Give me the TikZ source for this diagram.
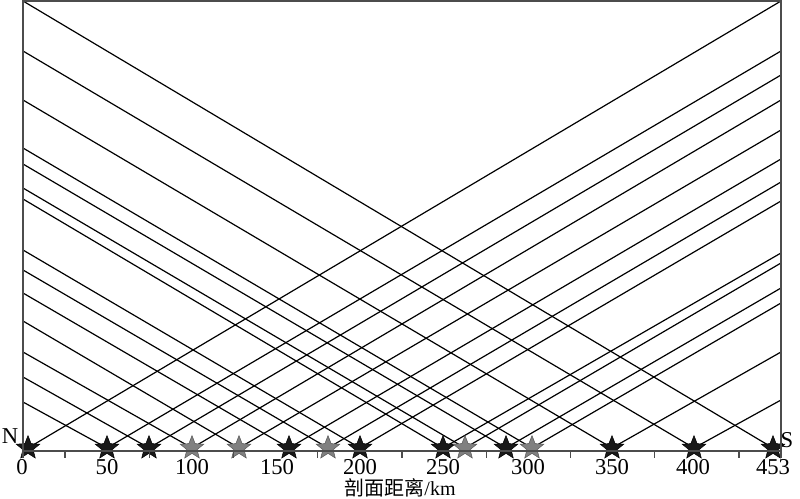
\documentclass[tikz,border=0pt]{standalone}
\usepackage{fontspec}
\setmainfont{Liberation Serif}
\newfontfamily\cjk{Noto Sans CJK SC}
\usetikzlibrary{shapes.geometric,backgrounds}
\begin{document}
\begin{tikzpicture}[x=0.75pt,y=-0.75pt,
  ray/.style={draw=black,line width=0.9pt},
  frame/.style={draw=black!70,line width=1.1pt},
  bstar/.style={star,star points=5,star point ratio=2.3,minimum size=18.5pt,inner sep=0pt,fill=black!90,draw=black,line width=0.4pt},
  gstar/.style={bstar,fill=black!50,draw=black!65},
  lab/.style={font=\fontsize{17}{19}\selectfont,inner sep=0pt},
  ttl/.style={font=\fontsize{15}{17}\selectfont,inner sep=0pt}]
\useasboundingbox (0,0) rectangle (800,499);
% stars (sources)
\foreach \n/\x/\s in {0/28/bstar,1/107/bstar,2/149/bstar,3/192/gstar,4/239/gstar,
  5/289/bstar,6/328/gstar,7/360/bstar,8/443/bstar,9/465/gstar,10/506/bstar,
  11/532/gstar,12/612/bstar,13/694/bstar,14/773/bstar}
  \node[\s] (s\n) at (\x,448) {};
% edge points, right side
\foreach \n/\y in {0/1,1/51,2/75,3/100,4/130,5/159,6/182,7/201,8/253,9/263,
  10/288,11/303,12/352,13/400}
  \coordinate (r\n) at (781,\y);
% edge points, left side
\foreach \n/\y in {1/402,2/377,3/352,4/321,5/293,6/270,7/250,8/199,9/188,
  10/164,11/148,12/100,13/51,14/1}
  \coordinate (l\n) at (23,\y);
\begin{scope}[on background layer]
  \foreach \i in {0,...,13} \draw[ray] (s\i.center) -- (r\i);
  \foreach \i in {1,...,14} \draw[ray] (s\i.center) -- (l\i);
\end{scope}
% frame and axis
\coordinate (bl) at (23,458);
\coordinate (tl) at (23,1);
\coordinate (tr) at (781,1);
\coordinate (br) at (781,458);
\coordinate (a0) at (23,451);
\coordinate (a1) at (781,451);
\draw[frame] (bl) -- (tl) -- (tr) -- (br);
\draw[frame] (a0) -- (a1);
\foreach \x in {65,149.25,233.5,317.75,402,486.25,570.5,654.75,739}
  \draw[frame] (\x,451) -- (\x,458);
% tick labels
\foreach \x/\t in {22/0,107/50,192/100,277/150,360/200,443/250,528/300,612/350,693/400,773/453}
  \node[lab] (t\t) at (\x,467) {\t};
\node[lab] (N) at (10,436.5) {N};
\node[lab] (S) at (787,440) {S};
\node[ttl] (title) at (400,487.5) {{\cjk 剖面距离}/km};
\end{tikzpicture}
\end{document}
